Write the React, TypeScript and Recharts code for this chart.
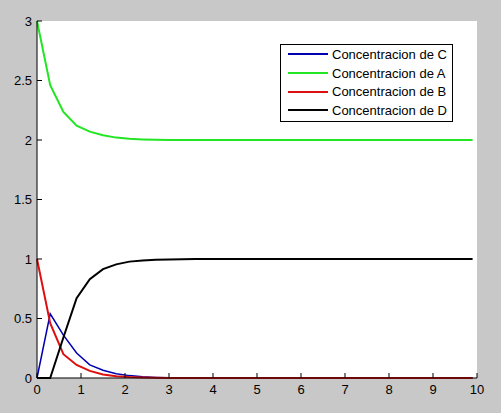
import React from 'react';
import { LineChart, Line, XAxis, YAxis, CartesianGrid } from 'recharts';

const times = [0, 0.3, 0.6, 0.9, 1.2, 1.5, 1.8, 2.1, 2.4, 2.7, 3.0, 3.3, 3.6, 3.9, 4.2, 4.5, 4.8, 5.1, 5.4, 5.7, 6.0, 6.3, 6.6, 6.9, 7.2, 7.5, 7.8, 8.1, 8.4, 8.7, 9.0, 9.3, 9.6, 9.9];
const concC = [0, 0.54, 0.36, 0.21, 0.11, 0.065, 0.035, 0.02, 0.01, 0.005, 0.002, 0.001, 0, 0, 0, 0, 0, 0, 0, 0, 0, 0, 0, 0, 0, 0, 0, 0, 0, 0, 0, 0, 0, 0];
const concA = [3, 2.46, 2.235, 2.12, 2.07, 2.04, 2.02, 2.01, 2.005, 2.002, 2.001, 2, 2, 2, 2, 2, 2, 2, 2, 2, 2, 2, 2, 2, 2, 2, 2, 2, 2, 2, 2, 2, 2, 2];
const concB = [1, 0.46, 0.2, 0.11, 0.06, 0.03, 0.015, 0.008, 0.004, 0.002, 0.001, 0, 0, 0, 0, 0, 0, 0, 0, 0, 0, 0, 0, 0, 0, 0, 0, 0, 0, 0, 0, 0, 0, 0];
const concD = [0, 0, 0.34, 0.67, 0.83, 0.915, 0.955, 0.978, 0.988, 0.993, 0.996, 0.998, 0.999, 1, 1, 1, 1, 1, 1, 1, 1, 1, 1, 1, 1, 1, 1, 1, 1, 1, 1, 1, 1, 1];

const xTicks = [0, 1, 2, 3, 4, 5, 6, 7, 8, 9, 10];
const yTicks = [0, 0.5, 1, 1.5, 2, 2.5, 3];

const seriesNames = ['Concentracion de C', 'Concentracion de A', 'Concentracion de B', 'Concentracion de D'];
const seriesKeys = ['C', 'A', 'B', 'D'];
const seriesColors = ['#0000b0', '#22e622', '#dd1010', '#000000'];
const seriesWidths = [1.5, 2, 2, 2];

const data = times.map((t, i) => ({ t, C: concC[i], A: concA[i], B: concB[i], D: concD[i] }));

const font = 'Arial, "Liberation Sans", sans-serif';

const LegendBox = () => (
  <div style={{ position: 'absolute', left: 280, top: 44, border: '1px solid #000', background: '#fff', width: 173, height: 78, boxSizing: 'border-box', padding: '0px 0 0 7px', fontFamily: font, fontSize: 13 }}>
    {seriesNames.map((n, i) => (
      <div key={n} style={{ display: 'flex', alignItems: 'center', height: 18.7, whiteSpace: 'nowrap' }}>
        <div style={{ width: 40, height: 2, background: seriesColors[i], marginRight: 4, flex: 'none' }} />
        <span style={{ color: '#000' }}>{n}</span>
      </div>
    ))}
  </div>
);

export default function App() {
  const tickStyle = { fill: '#000', fontSize: 13, fontFamily: font };
  return (
    <div style={{ position: 'fixed', left: 0, top: 0, width: 501, height: 413, background: '#c8c8c8' }}>
      <LineChart width={501} height={413} data={data} margin={{ top: 21, right: 24, left: 0, bottom: 0 }}>
        <CartesianGrid fill="#fff" stroke="none" />
        <XAxis dataKey="t" type="number" domain={[0, 10]} ticks={xTicks} height={35}
          stroke="#000" tickSize={-5} tickMargin={12} tick={tickStyle} interval={0} />
        <YAxis type="number" domain={[0, 3]} ticks={yTicks} width={37}
          stroke="#000" tickSize={-5} tickMargin={10} tick={tickStyle} interval={0} />
        {seriesKeys.map((k, i) => (
          <Line key={k} type="linear" dataKey={k} name={seriesNames[i]}
            stroke={seriesColors[i]} strokeWidth={seriesWidths[i]} dot={false} isAnimationActive={false} />
        ))}
      </LineChart>
      <LegendBox />
    </div>
  );
}
